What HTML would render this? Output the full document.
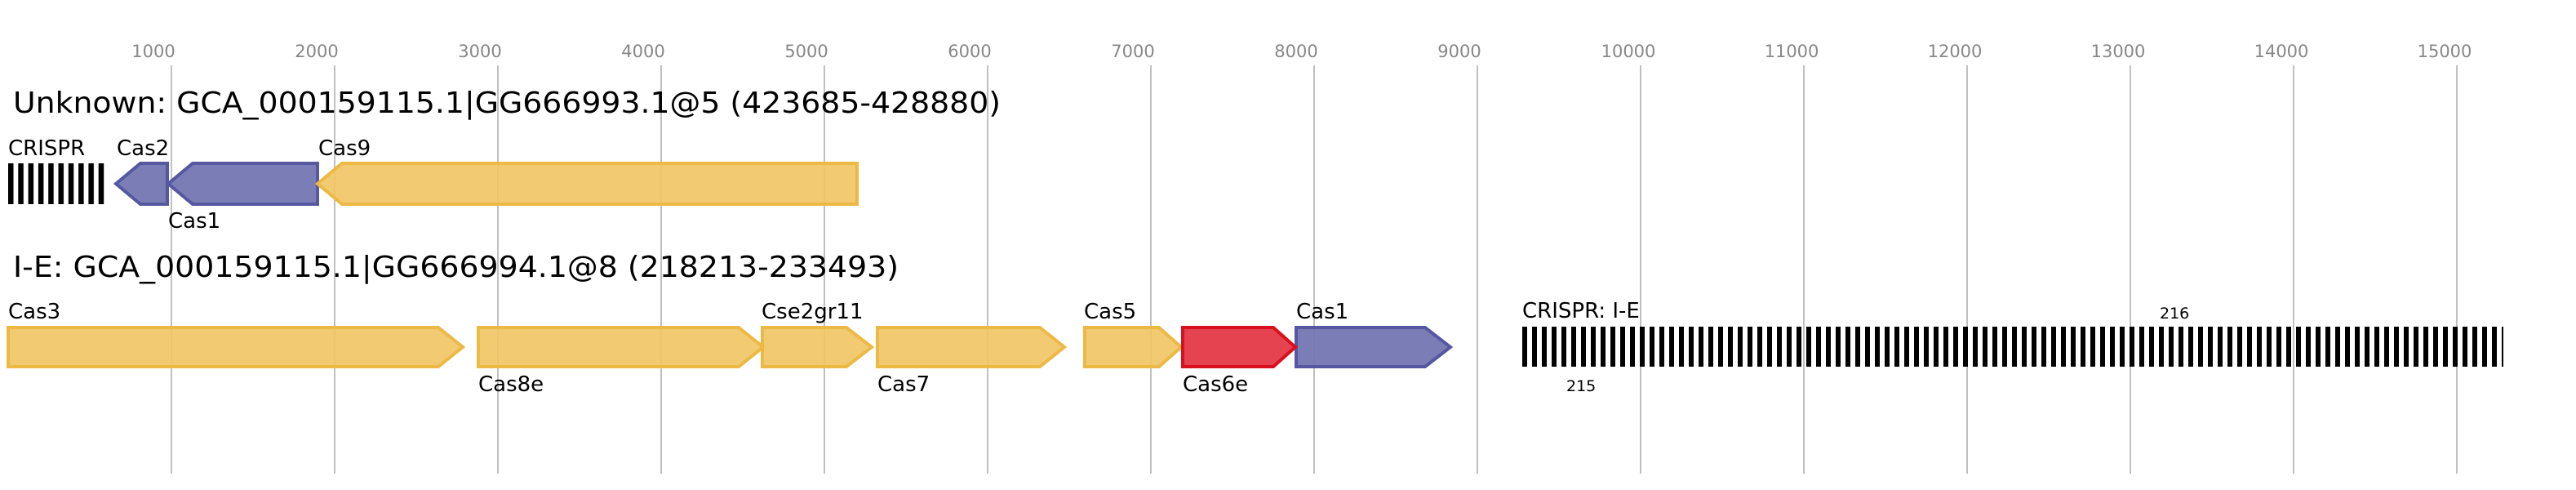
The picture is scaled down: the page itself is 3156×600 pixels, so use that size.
<!DOCTYPE html>
<html><head><meta charset="utf-8"><style>html,body{margin:0;padding:0;background:#fff}svg{display:block}</style></head>
<body>
<svg width="3156" height="600" viewBox="0 0 3156 600" xmlns="http://www.w3.org/2000/svg" font-family="'DejaVu Sans','Liberation Sans',sans-serif">
<defs>
<pattern id="cr" x="10" y="0" width="12.3" height="10" patternUnits="userSpaceOnUse"><rect x="0" y="0" width="6.5" height="10" fill="#000"/></pattern>
<pattern id="cr2" x="1865" y="0" width="12" height="10" patternUnits="userSpaceOnUse"><rect x="0" y="0" width="6" height="10" fill="#000"/></pattern>
</defs>
<g stroke="#c0c0c0" stroke-width="2">
<line x1="210" y1="80" x2="210" y2="580"/><line x1="410" y1="80" x2="410" y2="580"/><line x1="610" y1="80" x2="610" y2="580"/><line x1="810" y1="80" x2="810" y2="580"/><line x1="1010" y1="80" x2="1010" y2="580"/><line x1="1210" y1="80" x2="1210" y2="580"/><line x1="1410" y1="80" x2="1410" y2="580"/><line x1="1610" y1="80" x2="1610" y2="580"/><line x1="1810" y1="80" x2="1810" y2="580"/><line x1="2010" y1="80" x2="2010" y2="580"/><line x1="2210" y1="80" x2="2210" y2="580"/><line x1="2410" y1="80" x2="2410" y2="580"/><line x1="2610" y1="80" x2="2610" y2="580"/><line x1="2810" y1="80" x2="2810" y2="580"/><line x1="3010" y1="80" x2="3010" y2="580"/>
</g>
<g fill="#888" font-size="21" text-anchor="middle">
<text x="188" y="70">1000</text><text x="388" y="70">2000</text><text x="588" y="70">3000</text><text x="788" y="70">4000</text><text x="988" y="70">5000</text><text x="1188" y="70">6000</text><text x="1388" y="70">7000</text><text x="1588" y="70">8000</text><text x="1788" y="70">9000</text><text x="1995" y="70">10000</text><text x="2195" y="70">11000</text><text x="2395" y="70">12000</text><text x="2595" y="70">13000</text><text x="2795" y="70">14000</text><text x="2995" y="70">15000</text>
</g>
<text x="16" y="138" font-size="36" textLength="1210" lengthAdjust="spacingAndGlyphs">Unknown: GCA_000159115.1|GG666993.1@5 (423685-428880)</text>
<text x="16" y="339" font-size="36" textLength="1085" lengthAdjust="spacingAndGlyphs">I-E: GCA_000159115.1|GG666994.1@8 (218213-233493)</text>
<g font-size="26">
<text x="10" y="190">CRISPR</text><text x="143" y="190">Cas2</text><text x="206" y="279">Cas1</text><text x="390" y="190">Cas9</text>
<text x="10" y="390">Cas3</text><text x="586" y="479">Cas8e</text><text x="933" y="390">Cse2gr11</text><text x="1075" y="479">Cas7</text><text x="1328" y="390">Cas5</text><text x="1449" y="479">Cas6e</text><text x="1588" y="390">Cas1</text><text x="1865" y="389">CRISPR: I-E</text>
</g>
<text x="2646" y="390" font-size="19">216</text>
<text x="1919" y="479" font-size="19">215</text>
<rect x="10" y="200" width="123" height="50" fill="url(#cr)"/>
<rect x="1865" y="400" width="1202" height="49" fill="url(#cr2)"/>
<g stroke-width="4" stroke-linejoin="miter">
<g fill="#7476b2" fill-opacity="0.95" stroke="#5558a0">
<polygon points="142,225 172,200 205,200 205,250 172,250"/>
<polygon points="206,225 236,200 389,200 389,250 236,250"/>
<polygon points="1588,401 1746,401 1777,425 1746,449 1588,449"/>
</g>
<g fill="#efc462" fill-opacity="0.9" stroke="#ecb945">
<polygon points="389,225 419,200 1050,200 1050,250 419,250"/>
<polygon points="10,401 537,401 567,425 537,449 10,449"/>
<polygon points="586,401 905,401 935,425 905,449 586,449"/>
<polygon points="934,401 1037,401 1068,425 1037,449 934,449"/>
<polygon points="1075,401 1274,401 1304,425 1274,449 1075,449"/>
<polygon points="1329,401 1420,401 1447,425 1420,449 1329,449"/>
</g>
<polygon points="1449,401 1560,401 1587,425 1560,449 1449,449" fill="#e5434f" stroke="#d9101e"/>
</g>
</svg>
</body></html>
